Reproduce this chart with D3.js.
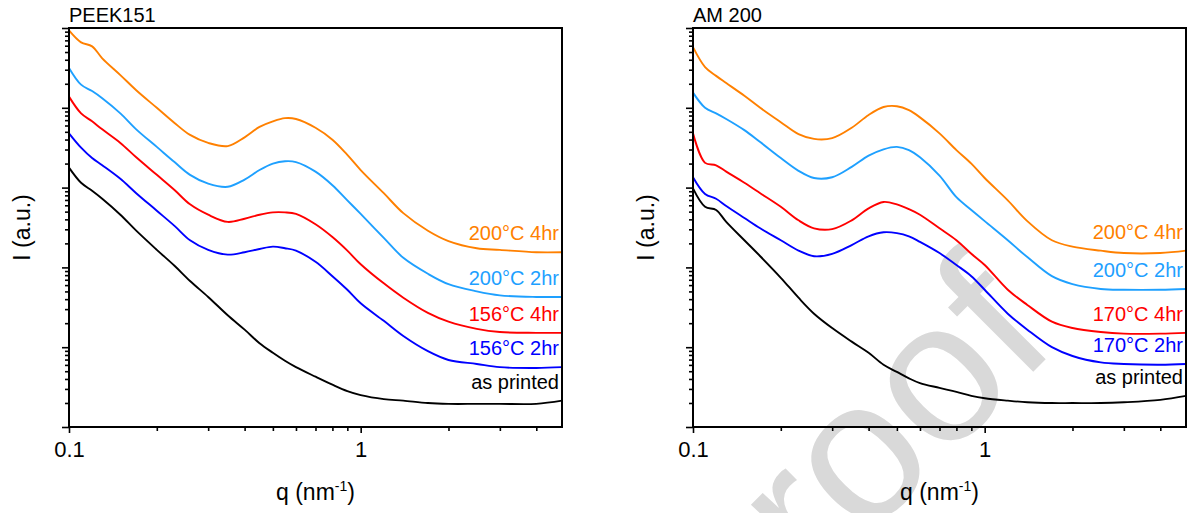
<!DOCTYPE html>
<html>
<head>
<meta charset="utf-8">
<script src="https://cdn.jsdelivr.net/npm/d3@7"></script>
<style>
  body { margin: 0; background: #fff; }
  svg { display: block; font-family: "Liberation Sans", Arial, sans-serif; }
</style>
</head>
<body>
<div id="chart"></div>
<script>
// q values (nm^-1) shared by every curve
var qValues = [0.1, 0.11, 0.12, 0.13, 0.15, 0.17, 0.2, 0.23, 0.26, 0.3, 0.35, 0.4, 0.45, 0.5,
               0.55, 0.6, 0.7, 0.8, 0.9, 1.0, 1.2, 1.4, 1.7, 2.0, 2.5, 3.0, 4.0, 4.9];

// log10 of I (a.u.) - PEEK151
var peek200c4hr = [4.97, 4.82, 4.77, 4.62, 4.41, 4.22, 4.00, 3.81, 3.66, 3.56, 3.52, 3.63, 3.76, 3.83,
                   3.87, 3.86, 3.75, 3.60, 3.41, 3.22, 2.93, 2.68, 2.46, 2.33, 2.24, 2.22, 2.19, 2.19];
var peek200c2hr = [4.50, 4.29, 4.21, 4.12, 3.93, 3.73, 3.51, 3.32, 3.16, 3.05, 3.01, 3.10, 3.22, 3.30,
                   3.33, 3.32, 3.20, 3.03, 2.84, 2.67, 2.37, 2.12, 1.92, 1.79, 1.70, 1.65, 1.63, 1.63];
var peek156c4hr = [4.14, 3.93, 3.83, 3.73, 3.56, 3.38, 3.16, 2.97, 2.79, 2.66, 2.57, 2.61, 2.66, 2.69,
                   2.69, 2.67, 2.54, 2.38, 2.21, 2.04, 1.80, 1.62, 1.43, 1.32, 1.23, 1.19, 1.18, 1.18];
var peek156c2hr = [3.68, 3.50, 3.37, 3.28, 3.11, 2.93, 2.71, 2.52, 2.34, 2.22, 2.16, 2.19, 2.23, 2.26,
                   2.24, 2.21, 2.07, 1.89, 1.72, 1.55, 1.33, 1.14, 0.95, 0.84, 0.79, 0.75, 0.74, 0.75];
var peekPrinted = [3.25, 3.06, 2.96, 2.86, 2.66, 2.46, 2.22, 2.02, 1.83, 1.63, 1.40, 1.22, 1.05, 0.93,
                   0.83, 0.75, 0.63, 0.53, 0.45, 0.40, 0.35, 0.33, 0.30, 0.29, 0.29, 0.29, 0.29, 0.33];

// log10 of I (a.u.) - AM 200
var am200c4hr = [4.76, 4.51, 4.40, 4.31, 4.15, 4.00, 3.82, 3.67, 3.61, 3.62, 3.75, 3.91, 4.01, 4.02,
                 3.97, 3.88, 3.68, 3.47, 3.30, 3.12, 2.84, 2.58, 2.34, 2.26, 2.21, 2.18, 2.18, 2.21];
var am200c2hr = [4.19, 4.00, 3.93, 3.86, 3.72, 3.57, 3.37, 3.21, 3.12, 3.13, 3.26, 3.40, 3.48, 3.51,
                 3.47, 3.38, 3.15, 2.88, 2.72, 2.58, 2.34, 2.13, 1.89, 1.79, 1.73, 1.72, 1.72, 1.73];
var am170c4hr = [3.68, 3.31, 3.28, 3.20, 3.06, 2.93, 2.76, 2.59, 2.49, 2.48, 2.59, 2.74, 2.82, 2.79,
                 2.73, 2.66, 2.49, 2.34, 2.17, 2.03, 1.72, 1.53, 1.32, 1.24, 1.19, 1.17, 1.17, 1.18];
var am170c2hr = [3.13, 2.92, 2.86, 2.77, 2.62, 2.49, 2.34, 2.21, 2.14, 2.17, 2.28, 2.39, 2.44, 2.43,
                 2.39, 2.32, 2.18, 2.03, 1.89, 1.72, 1.42, 1.22, 1.00, 0.89, 0.81, 0.79, 0.78, 0.79];
var amPrinted = [2.99, 2.76, 2.72, 2.57, 2.34, 2.14, 1.87, 1.62, 1.42, 1.24, 1.07, 0.93, 0.78, 0.69,
                 0.61, 0.55, 0.49, 0.44, 0.39, 0.36, 0.33, 0.31, 0.30, 0.30, 0.30, 0.31, 0.34, 0.39];

var peekLabels = ["200°C 4hr", "200°C 2hr", "156°C 4hr", "156°C 2hr", "as printed"];
var amLabels = ["200°C 4hr", "200°C 2hr", "170°C 4hr", "170°C 2hr", "as printed"];
var seriesColors = ["#ff8000", "#1ea0ff", "#ff0000", "#0000ff", "#000000"];

var xMajorTicks = [0.1, 1];
var xMinorTicks = [0.2, 0.3, 0.4, 0.5, 0.6, 0.7, 0.8, 0.9, 2, 3, 4];
var yMajorTicks = [1, 10, 100, 1000, 10000, 100000];

// set the dimensions of each panel
var margin = {top: 28},
    width = 493,
    height = 399,
    panelLeft = [69, 693];

var svg = d3.select("#chart")
    .append("svg")
    .attr("width", 1189)
    .attr("height", 513);

// watermark goes underneath
svg.append("text")
    .attr("transform", "translate(1060,345) rotate(-45)")
    .attr("text-anchor", "end")
    .style("font-size", "200px")
    .style("fill", "#d9d9d9")
    .text("Journal Pre-proof");

// minor y ticks: 2..9 in every decade
var yMinorTicks = [];
yMajorTicks.slice(0, -1).forEach(function(d) {
    for (var k = 2; k <= 9; k++) yMinorTicks.push(d * k);
});

function drawPanel(left, title, curves, labels) {
    var g = svg.append("g")
        .attr("transform", "translate(" + left + "," + margin.top + ")");

    var x = d3.scaleLog().domain([0.1, 4.9]).range([0, width]);
    var y = d3.scaleLog().domain([1, 100000]).range([height, 0]);

    // curves
    curves.forEach(function(vals, i) {
        var pts = qValues.map(function(q, j) { return {q: q, I: Math.pow(10, vals[j])}; });
        g.append("path")
            .datum(pts)
            .attr("fill", "none")
            .attr("stroke", seriesColors[i])
            .attr("stroke-width", 1.9)
            .attr("d", d3.line()
                .curve(d3.curveCatmullRom.alpha(0.5))
                .x(function(d) { return x(d.q) })
                .y(function(d) { return y(d.I) }));

        g.append("text")
            .attr("x", width - 3)
            .attr("y", y(pts[pts.length - 1].I) - 12)
            .attr("text-anchor", "end")
            .style("font-size", "20px")
            .style("fill", seriesColors[i])
            .text(labels[i]);
    });

    // x axis: major + minor ticks
    var xMajor = g.append("g")
        .attr("transform", "translate(0," + height + ")")
        .call(d3.axisBottom(x).tickValues(xMajorTicks).tickSize(6).tickPadding(8)
            .tickFormat(function(d) { return d === 0.1 ? "0.1" : "1"; }));
    xMajor.selectAll("text").style("font-size", "22px").style("font-family", "inherit").attr("fill", "#000");

    g.append("g")
        .attr("transform", "translate(0," + height + ")")
        .call(d3.axisBottom(x).tickValues(xMinorTicks).tickSize(4).tickFormat(""));

    // y axis: ticks only, no labels
    g.append("g")
        .call(d3.axisLeft(y).tickValues(yMajorTicks).tickSize(7).tickFormat(""));
    g.append("g")
        .call(d3.axisLeft(y).tickValues(yMinorTicks).tickSize(4).tickFormat(""));

    g.selectAll(".domain").remove();
    g.selectAll(".tick line").attr("stroke", "#000").attr("stroke-width", 1.6);

    // box frame
    g.append("rect")
        .attr("width", width)
        .attr("height", height)
        .attr("fill", "none")
        .attr("stroke", "#000")
        .attr("stroke-width", 2);

    // titles
    g.append("text")
        .attr("x", 0)
        .attr("y", -6)
        .style("font-size", "20px")
        .text(title);

    var xt = g.append("text")
        .attr("x", width / 2)
        .attr("y", height + 73)
        .attr("text-anchor", "middle")
        .style("font-size", "23px");
    xt.append("tspan").text("q (nm");
    xt.append("tspan").attr("dy", -9).style("font-size", "14px").text("-1");
    xt.append("tspan").attr("dy", 9).text(")");

    g.append("text")
        .attr("transform", "rotate(-90)")
        .attr("x", -height / 2)
        .attr("y", -47)
        .attr("dy", "0.35em")
        .attr("text-anchor", "middle")
        .style("font-size", "23px")
        .text("I (a.u.)");
}

drawPanel(panelLeft[0], "PEEK151",
    [peek200c4hr, peek200c2hr, peek156c4hr, peek156c2hr, peekPrinted], peekLabels);
drawPanel(panelLeft[1], "AM 200",
    [am200c4hr, am200c2hr, am170c4hr, am170c2hr, amPrinted], amLabels);
</script>
</body>
</html>
